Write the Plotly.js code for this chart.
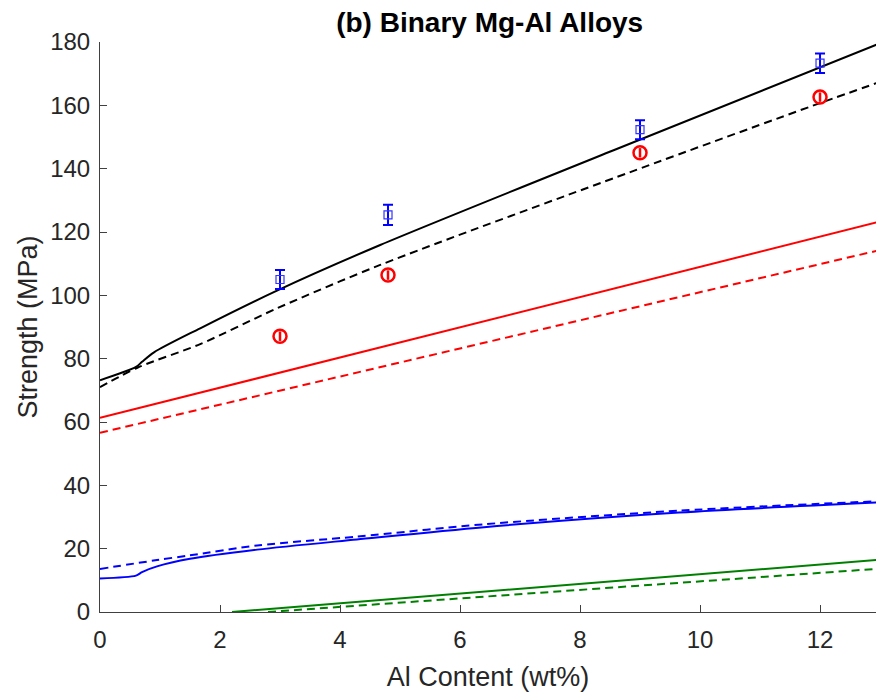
<!DOCTYPE html>
<html>
<head>
<meta charset="utf-8">
<script src="https://cdn.plot.ly/plotly-3.0.1.min.js"></script>
<style>html,body{margin:0;padding:0;background:#fff;}#chart{width:876px;height:696px;}</style>
</head>
<body>
<div id="chart"></div>
<script>
// Experimental points
const expX = [3, 4.8, 9, 12];
const yieldExp = [105, 125.4, 152.3, 173.3];
const yieldErr = [3, 3.2, 3, 3.1];
const otherExp = [87.1, 106.4, 145.0, 162.6];
const otherErr = [1.5, 1.5, 1.5, 1.5];

// Total (black)
const totSolidX = [0, 0.6, 0.7, 0.9, 1.67, 2.95, 4.67, 8.57, 13];
const totSolidY = [73.2, 77.4, 79.0, 82.0, 89.6, 101.5, 115.9, 145.9, 179.6];
const totDashX = [0, 0.63, 1.67, 2.95, 4.67, 8.85, 12, 13];
const totDashY = [71.0, 77.2, 84.6, 95.9, 109.6, 139.0, 160.7, 167.4];

// Red component
const redSolidX = [0, 13];
const redSolidY = [61.3, 123.3];
const redDashX = [0, 13];
const redDashY = [56.6, 114.3];

// Blue component
const blueSolidX = [0, 0.6, 0.7, 0.95, 1.5, 2.62, 4.28, 6.4, 9.65, 13];
const blueSolidY = [10.6, 11.5, 12.6, 14.4, 16.8, 19.7, 22.9, 26.8, 31.4, 34.6];
const blueDashX = [0, 0.95, 1.5, 2.62, 4.28, 6.4, 9.65, 13];
const blueDashY = [13.6, 16.4, 17.9, 21.0, 23.8, 27.7, 32.0, 35.0];

// Green component
const greenSolidX = [2.2, 13];
const greenSolidY = [0, 16.5];
const greenDashX = [2.8, 13];
const greenDashY = [0, 13.7];

const xTicks = [0, 2, 4, 6, 8, 10, 12];
const yTicks = [0, 20, 40, 60, 80, 100, 120, 140, 160, 180];

const DASH = '8px,5px';
function line(x, y, color, dash, smooth) {
  return {x: x, y: y, type: 'scatter', mode: 'lines', showlegend: false,
    line: {color: color, width: 2, dash: dash ? DASH : 'solid',
      shape: smooth ? 'spline' : 'linear', smoothing: 0.8}, hoverinfo: 'skip'};
}

const traces = [
  line(totSolidX, totSolidY, '#000000', false, true),
  line(totDashX, totDashY, '#000000', true, true),
  line(redSolidX, redSolidY, '#ff0000', false, false),
  line(redDashX, redDashY, '#ff0000', true, false),
  line(blueSolidX, blueSolidY, '#0000ff', false, true),
  line(blueDashX, blueDashY, '#0000ff', true, true),
  line(greenSolidX, greenSolidY, '#008000', false, false),
  line(greenDashX, greenDashY, '#008000', true, false),
  {x: expX, y: otherExp, type: 'scatter', mode: 'markers', showlegend: false,
    marker: {symbol: 'circle-open', size: 13, color: '#ff0000', line: {width: 2.5, color: '#ff0000'}},
    error_y: {type: 'data', array: otherErr, visible: true, color: '#ff0000', thickness: 2.5, width: 0}},
  {x: expX, y: yieldExp, type: 'scatter', mode: 'markers', showlegend: false,
    marker: {symbol: 'square-open', size: 8, color: '#3333ff', line: {width: 1.2, color: '#3333ff'}},
    error_y: {type: 'data', array: yieldErr, visible: true, color: '#0000ff', thickness: 2, width: 5}}
];

const axisFont = {family: '"Liberation Sans", Arial, sans-serif', size: 24, color: '#262626'};
const titleFont = {family: '"Liberation Sans", Arial, sans-serif', size: 27, color: '#262626'};

const layout = {
  width: 876, height: 696,
  margin: {l: 100, r: 0, t: 42, b: 84, pad: 0},
  paper_bgcolor: '#ffffff', plot_bgcolor: '#ffffff',
  title: {text: '<b>(b) Binary Mg-Al Alloys</b>', x: 0.559, xanchor: 'center', y: 0.968, yanchor: 'middle',
    font: {family: '"Liberation Sans", Arial, sans-serif', size: 28, color: '#000000'}},
  xaxis: {range: [0, 12.933], tickvals: xTicks, ticktext: xTicks.map(String),
    ticks: 'inside', ticklen: 7, tickcolor: '#404040', tickwidth: 1,
    showline: true, linecolor: '#404040', linewidth: 1, mirror: false,
    showgrid: false, zeroline: false, tickfont: axisFont, ticklabelstandoff: 6,
    title: {text: 'Al Content (wt%)', font: titleFont, standoff: 15}},
  yaxis: {range: [0, 180], tickvals: yTicks, ticktext: yTicks.map(String),
    ticks: 'inside', ticklen: 7, tickcolor: '#404040', tickwidth: 1,
    showline: true, linecolor: '#404040', linewidth: 1, mirror: false,
    showgrid: false, zeroline: false, tickfont: axisFont, ticklabelstandoff: 4,
    title: {text: 'Strength (MPa)', font: titleFont, standoff: 4}}
};

Plotly.newPlot('chart', traces, layout, {displayModeBar: false, staticPlot: true});
</script>
</body>
</html>
